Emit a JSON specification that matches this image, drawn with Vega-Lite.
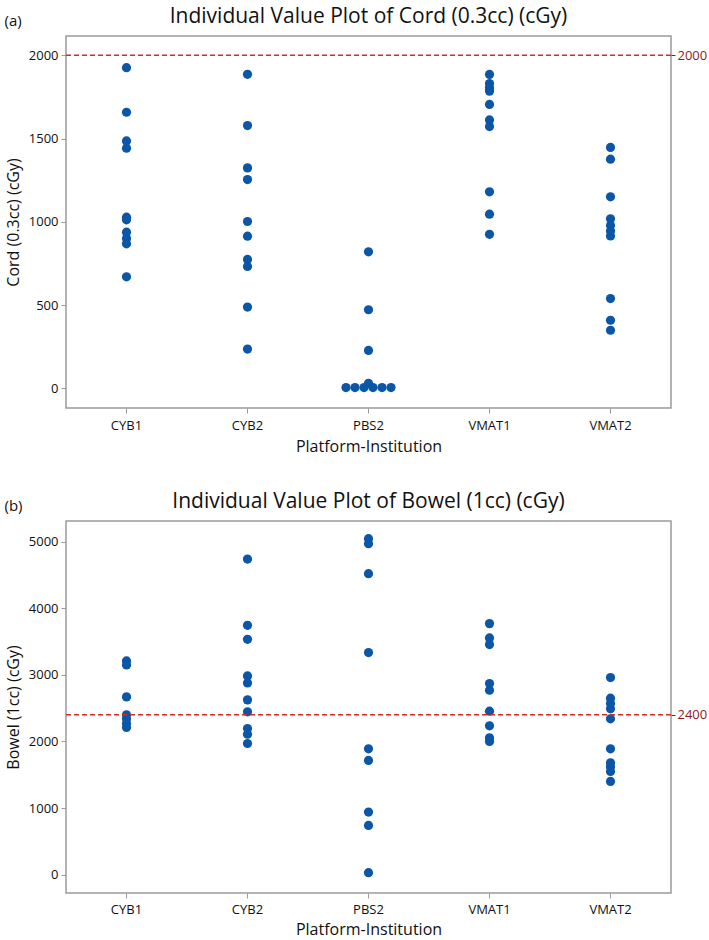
{
  "$schema": "https://vega.github.io/schema/vega-lite/v6.json",
  "padding": {"left": 4, "top": 5, "right": 0, "bottom": 0},
  "background": "white",
  "config": {
    "font": "Open Sans",
    "view": {"stroke": "#9a9a9a", "strokeWidth": 1.5},
    "axis": {"labelFont": "Open Sans", "titleFont": "Open Sans", "labelFontSize": 13, "titleFontSize": 16, "titleFontWeight": 500, "labelFontWeight": 500, "labelColor": "#111", "titleColor": "#111", "tickColor": "#9a9a9a", "tickSize": 5, "grid": false, "domain": false},
    "title": {"font": "Open Sans", "fontWeight": 500, "color": "#111"}
  },
  "datasets": {
    "cord": [
      {"group": "CYB1", "value": 1926}, {"group": "CYB1", "value": 1658}, {"group": "CYB1", "value": 1486}, {"group": "CYB1", "value": 1442}, {"group": "CYB1", "value": 1028}, {"group": "CYB1", "value": 1012}, {"group": "CYB1", "value": 938}, {"group": "CYB1", "value": 900}, {"group": "CYB1", "value": 868}, {"group": "CYB1", "value": 670},
      {"group": "CYB2", "value": 1886}, {"group": "CYB2", "value": 1578}, {"group": "CYB2", "value": 1324}, {"group": "CYB2", "value": 1254}, {"group": "CYB2", "value": 1002}, {"group": "CYB2", "value": 914}, {"group": "CYB2", "value": 774}, {"group": "CYB2", "value": 732}, {"group": "CYB2", "value": 488}, {"group": "CYB2", "value": 236},
      {"group": "PBS2", "value": 820}, {"group": "PBS2", "value": 472}, {"group": "PBS2", "value": 228}, {"group": "PBS2", "value": 30}, {"group": "PBS2", "value": 5}, {"group": "PBS2", "value": 5}, {"group": "PBS2", "value": 5}, {"group": "PBS2", "value": 5}, {"group": "PBS2", "value": 5}, {"group": "PBS2", "value": 5},
      {"group": "VMAT1", "value": 1885}, {"group": "VMAT1", "value": 1830}, {"group": "VMAT1", "value": 1805}, {"group": "VMAT1", "value": 1785}, {"group": "VMAT1", "value": 1705}, {"group": "VMAT1", "value": 1612}, {"group": "VMAT1", "value": 1572}, {"group": "VMAT1", "value": 1180}, {"group": "VMAT1", "value": 1046}, {"group": "VMAT1", "value": 925},
      {"group": "VMAT2", "value": 1447}, {"group": "VMAT2", "value": 1376}, {"group": "VMAT2", "value": 1150}, {"group": "VMAT2", "value": 1018}, {"group": "VMAT2", "value": 978}, {"group": "VMAT2", "value": 945}, {"group": "VMAT2", "value": 915}, {"group": "VMAT2", "value": 539}, {"group": "VMAT2", "value": 409}, {"group": "VMAT2", "value": 349}
    ],
    "bowel": [
      {"group": "CYB1", "value": 3210}, {"group": "CYB1", "value": 3150}, {"group": "CYB1", "value": 2670}, {"group": "CYB1", "value": 2400}, {"group": "CYB1", "value": 2340}, {"group": "CYB1", "value": 2270}, {"group": "CYB1", "value": 2210},
      {"group": "CYB2", "value": 4740}, {"group": "CYB2", "value": 3745}, {"group": "CYB2", "value": 3535}, {"group": "CYB2", "value": 2985}, {"group": "CYB2", "value": 2880}, {"group": "CYB2", "value": 2625}, {"group": "CYB2", "value": 2445}, {"group": "CYB2", "value": 2195}, {"group": "CYB2", "value": 2110}, {"group": "CYB2", "value": 1970},
      {"group": "PBS2", "value": 5045}, {"group": "PBS2", "value": 4970}, {"group": "PBS2", "value": 4520}, {"group": "PBS2", "value": 3335}, {"group": "PBS2", "value": 1890}, {"group": "PBS2", "value": 1715}, {"group": "PBS2", "value": 940}, {"group": "PBS2", "value": 740}, {"group": "PBS2", "value": 30},
      {"group": "VMAT1", "value": 3770}, {"group": "VMAT1", "value": 3555}, {"group": "VMAT1", "value": 3455}, {"group": "VMAT1", "value": 2870}, {"group": "VMAT1", "value": 2770}, {"group": "VMAT1", "value": 2455}, {"group": "VMAT1", "value": 2235}, {"group": "VMAT1", "value": 2055}, {"group": "VMAT1", "value": 2000},
      {"group": "VMAT2", "value": 2960}, {"group": "VMAT2", "value": 2650}, {"group": "VMAT2", "value": 2570}, {"group": "VMAT2", "value": 2490}, {"group": "VMAT2", "value": 2340}, {"group": "VMAT2", "value": 1890}, {"group": "VMAT2", "value": 1680}, {"group": "VMAT2", "value": 1620}, {"group": "VMAT2", "value": 1550}, {"group": "VMAT2", "value": 1400}
    ]
  },
  "vconcat": [
    {
      "title": {"text": "(a)", "anchor": "start", "frame": "bounds", "fontSize": 15, "offset": -24},
      "vconcat": [
        {
          "title": {"text": "Individual Value Plot of Cord (0.3cc) (cGy)", "fontSize": 21, "anchor": "middle", "offset": 9},
          "width": 605, "height": 372,
          "resolve": {"axis": {"y": "independent"}},
          "layer": [
            {
              "data": {"name": "cord"},
              "transform": [
                {"window": [{"op": "row_number", "as": "tieIndex"}], "groupby": ["group", "value"]},
                {"joinaggregate": [{"op": "count", "as": "tieCount"}], "groupby": ["group", "value"]},
                {"calculate": "datum.tieIndex - (datum.tieCount + 1) / 2", "as": "tieOffset"}
              ],
              "mark": {"type": "point", "filled": true, "opacity": 1, "size": 85, "color": "#0b56a6"},
              "encoding": {
                "x": {"field": "group", "type": "nominal", "sort": ["CYB1", "CYB2", "PBS2", "VMAT1", "VMAT2"], "scale": {"type": "band", "paddingInner": 0, "paddingOuter": 0}, "axis": {"title": "Platform-Institution", "labelAngle": 0, "labelPadding": 6, "titlePadding": 6}},
                "xOffset": {"field": "tieOffset", "type": "quantitative", "scale": {"domain": [-6.72, 6.72]}},
                "y": {"field": "value", "type": "quantitative", "scale": {"domain": [-118, 2116], "nice": false, "zero": false}, "axis": {"title": "Cord (0.3cc) (cGy)", "format": "d", "values": [0, 500, 1000, 1500, 2000], "titlePadding": 7, "labelPadding": 3}}
              }
            },
            {
              "data": {"values": [{"limit": 2000}]},
              "mark": {"type": "rule", "color": "#d42a2a", "strokeDash": [5, 3], "strokeWidth": 1.5},
              "encoding": {
                "y": {"field": "limit", "type": "quantitative", "axis": {"orient": "right", "title": null, "format": "d", "values": [2000], "labelColor": "#8e1b1b", "tickColor": "#8e1b1b", "tickSize": 4, "labelPadding": 2}}
              }
            }
          ]
        }
      ]
    },
    {
      "title": {"text": "(b)", "anchor": "start", "frame": "bounds", "fontSize": 15, "offset": -24},
      "vconcat": [
        {
          "title": {"text": "Individual Value Plot of Bowel (1cc) (cGy)", "fontSize": 21, "anchor": "middle", "offset": 9},
          "width": 605, "height": 372,
          "resolve": {"axis": {"y": "independent"}},
          "layer": [
            {
              "data": {"name": "bowel"},
              "transform": [
                {"window": [{"op": "row_number", "as": "tieIndex"}], "groupby": ["group", "value"]},
                {"joinaggregate": [{"op": "count", "as": "tieCount"}], "groupby": ["group", "value"]},
                {"calculate": "datum.tieIndex - (datum.tieCount + 1) / 2", "as": "tieOffset"}
              ],
              "mark": {"type": "point", "filled": true, "opacity": 1, "size": 85, "color": "#0b56a6"},
              "encoding": {
                "x": {"field": "group", "type": "nominal", "sort": ["CYB1", "CYB2", "PBS2", "VMAT1", "VMAT2"], "scale": {"type": "band", "paddingInner": 0, "paddingOuter": 0}, "axis": {"title": "Platform-Institution", "labelAngle": 0, "labelPadding": 5, "titlePadding": 5}},
                "xOffset": {"field": "tieOffset", "type": "quantitative", "scale": {"domain": [-6.72, 6.72]}},
                "y": {"field": "value", "type": "quantitative", "scale": {"domain": [-275, 5311], "nice": false, "zero": false}, "axis": {"title": "Bowel (1cc) (cGy)", "format": "d", "values": [0, 1000, 2000, 3000, 4000, 5000], "titlePadding": 7, "labelPadding": 3}}
              }
            },
            {
              "data": {"values": [{"limit": 2400}]},
              "mark": {"type": "rule", "color": "#d42a2a", "strokeDash": [5, 3], "strokeWidth": 1.5},
              "encoding": {
                "y": {"field": "limit", "type": "quantitative", "axis": {"orient": "right", "title": null, "format": "d", "values": [2400], "labelColor": "#8e1b1b", "tickColor": "#8e1b1b", "tickSize": 4, "labelPadding": 2}}
              }
            }
          ]
        }
      ]
    }
  ],
  "spacing": 35
}
